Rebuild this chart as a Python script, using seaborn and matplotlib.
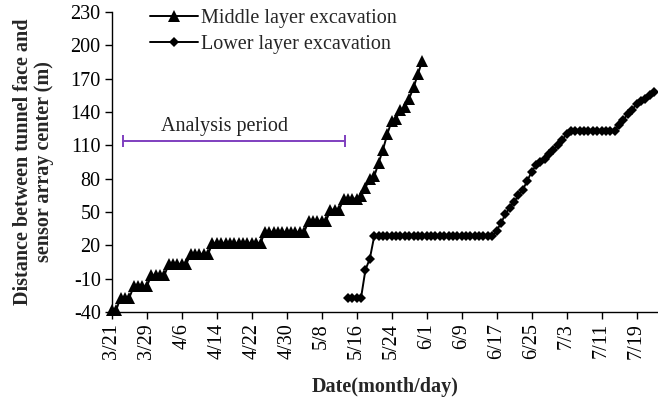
import matplotlib
matplotlib.use("Agg")
import matplotlib.pyplot as plt
import pandas as pd
import seaborn as sns

# Daily distance (m) between tunnel face and the sensor array centre
middle_start = "2011-03-21"
middle_vals = ([-38] * 2 + [-27] * 3 + [-17] * 4 + [-7] * 4 + [3] * 5 + [12] * 5
               + [22] * 12 + [32] * 10 + [42] * 5 + [52] * 3 + [62] * 4
               + [64, 72, 80, 82, 94, 106, 120, 132, 134, 142, 144, 152, 162, 174, 186])

lower_start = "2011-05-14"
lower_vals = ([-27] * 4 + [-2, 8] + [28] * 28
              + [33, 40, 48, 54, 59, 65, 70, 78, 86, 92, 95, 98, 102, 106, 110, 115, 120, 123]
              + [123] * 10
              + [128, 133, 138, 142, 147, 150, 152, 155, 158])

series_names = ["Middle layer excavation", "Lower layer excavation"]

period_start = "2011-03-23 12:00"
period_end = "2011-05-13 10:00"
period_level = 114
period_label = "Analysis period"
period_label_at = "2011-04-15 20:00"

tick_start, tick_end, tick_step = "2011-03-21", "2011-07-19", "8D"
y_ticks = [-40, -10, 20, 50, 80, 110, 140, 170, 200, 230]

FS = 14.5

sns.set_style("ticks")
plt.rcParams["font.family"] = ["Liberation Serif", "DejaVu Serif"]
plt.rcParams["font.size"] = FS
plt.rcParams["axes.unicode_minus"] = False

mid_df = pd.DataFrame({"date": pd.date_range(middle_start, periods=len(middle_vals), freq="D"),
                       "dist": middle_vals})
low_df = pd.DataFrame({"date": pd.date_range(lower_start, periods=len(lower_vals), freq="D"),
                       "dist": lower_vals})

fig = plt.figure(figsize=(6.58, 4.09), dpi=100)
ax = fig.add_axes([0.170, 0.237, 0.830, 0.734])

sns.lineplot(data=mid_df, x="date", y="dist", ax=ax, color="black", lw=1.4,
             marker="^", markersize=8, markeredgewidth=0, label=series_names[0],
             clip_on=False)
sns.lineplot(data=low_df, x="date", y="dist", ax=ax, color="black", lw=1.4,
             marker="D", markersize=5.5, markeredgewidth=0, label=series_names[1],
             clip_on=False)

# analysis window bracket
ps, pe = pd.Timestamp(period_start), pd.Timestamp(period_end)
ax.plot([ps, pe], [period_level, period_level], color="#7F3FBF", lw=1.4,
        marker="|", markersize=9, markeredgewidth=1.4)
ax.text(pd.Timestamp(period_label_at), period_level + 4, period_label, ha="center",
        va="bottom", fontsize=FS, color="#222222")

ticks = pd.date_range(tick_start, tick_end, freq=tick_step)
ax.set_xticks(ticks)
ax.set_xticklabels([f"{d.month}/{d.day}" for d in ticks], rotation=90)
ax.set_xlim(pd.Timestamp(tick_start), pd.Timestamp("2011-07-23 22:00"))
ax.set_ylim(-40, 230)
ax.set_yticks(y_ticks)

ax.tick_params(direction="out", length=5, width=1, color="black",
               labelsize=FS, labelcolor="black", pad=3)
for side in ("top", "right"):
    ax.spines[side].set_visible(False)
for side in ("left", "bottom"):
    ax.spines[side].set_color("black")
    ax.spines[side].set_linewidth(1)

ax.set_xlabel("Date(month/day)", fontweight="bold", fontsize=FS, labelpad=13)
ax.set_ylabel("Distance between tunnel face and\nsensor array center (m)",
              fontweight="bold", fontsize=FS, labelpad=12, linespacing=1.05)

leg = ax.legend(loc="upper left", bbox_to_anchor=(150 / 658, 1 - 9 / 409),
                bbox_transform=fig.transFigure, frameon=False, borderpad=0,
                borderaxespad=0, handlelength=2.4, handletextpad=0.15,
                labelspacing=0.35, fontsize=FS)

fig.savefig("out.png", dpi=100)
